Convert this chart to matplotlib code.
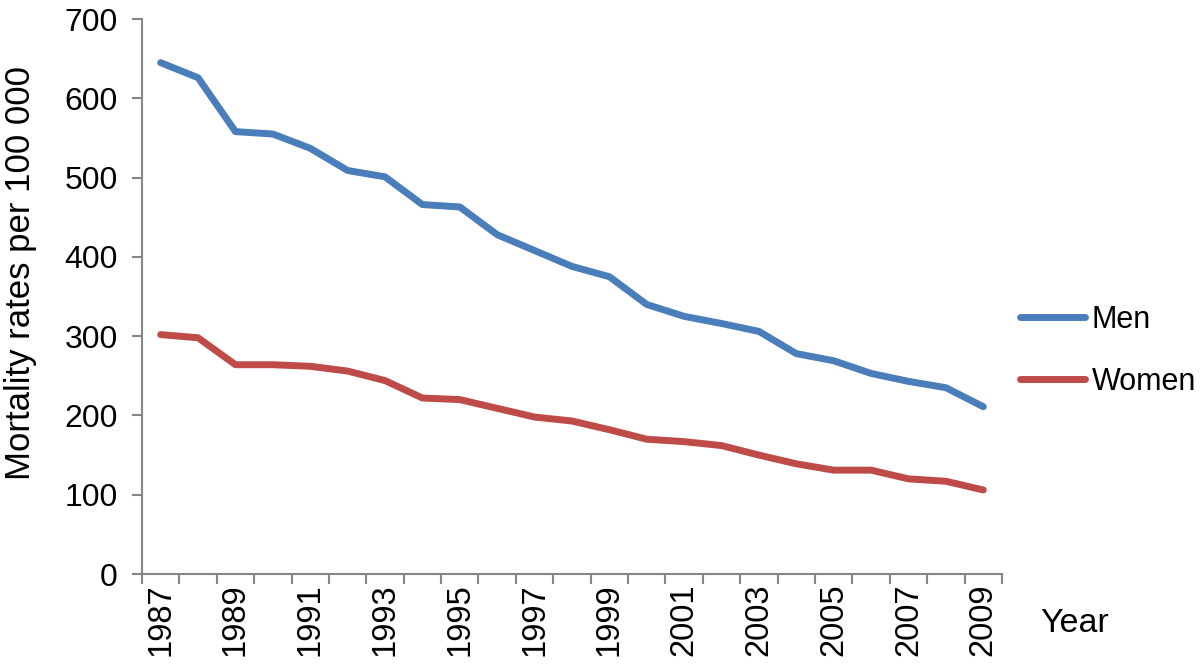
import matplotlib.pyplot as plt
import numpy as np

plt.rcParams['font.family'] = ['Liberation Sans', 'DejaVu Sans']

# Data
years = list(range(1987, 2010))
men = [645, 626, 558, 555, 537, 509, 501, 466, 463, 428, 408, 388,
       375, 340, 325, 316, 306, 278, 269, 253, 243, 235, 211]
women = [302, 298, 264, 264, 262, 256, 244, 222, 220, 209, 198, 193,
         182, 170, 167, 162, 150, 139, 131, 131, 120, 117, 106]

blue = '#4a7ebb'
red = '#be4b48'
axis_grey = '#868686'

fig = plt.figure(figsize=(12, 6.66), dpi=100)
ax = fig.add_axes([0.1183, 0.1381, 0.7167, 0.8333])

x = np.arange(len(years))
ax.plot(x, men, color=blue, lw=5, solid_capstyle='round', label='Men')
ax.plot(x, women, color=red, lw=5, solid_capstyle='round', label='Women')

ax.set_xlim(-0.5, len(years) - 0.5)
ax.set_ylim(0, 700)
ax.set_yticks(np.arange(0, 701, 100))

# category axis: tick marks between categories, labels every 2nd year
ax.set_xticks(np.arange(-0.5, len(years), 1))
ax.set_xticklabels([])
ax.set_xticks(x[::2], minor=True)
ax.set_xticklabels([str(y) for y in years[::2]], minor=True, rotation=90, fontsize=23.5)
ax.tick_params(axis='x', which='major', length=7.5, width=1.5, color=axis_grey, direction='out')
ax.tick_params(axis='x', which='minor', length=0, pad=7)
ax.tick_params(axis='y', length=7.5, width=1.5, color=axis_grey, labelsize=23, pad=10)

for side in ['top', 'right']:
    ax.spines[side].set_visible(False)
for side in ['left', 'bottom']:
    ax.spines[side].set_color(axis_grey)
    ax.spines[side].set_linewidth(1.5)

ax.set_ylabel('Mortality rates per 100 000', fontsize=25)
ax.yaxis.set_label_coords(-0.122, 0.543)
fig.text(1040 / 1200, 1 - 623 / 666, 'Year', fontsize=24.5, ha='left', va='center')

fig.legend(loc='center left', bbox_to_anchor=(1020 / 1200, 1 - 351 / 666),
           frameon=False, fontsize=22, handlelength=2.12, handletextpad=0.23,
           labelspacing=1.05, borderpad=0, borderaxespad=0)

plt.savefig('out.png', dpi=100, facecolor='white')
